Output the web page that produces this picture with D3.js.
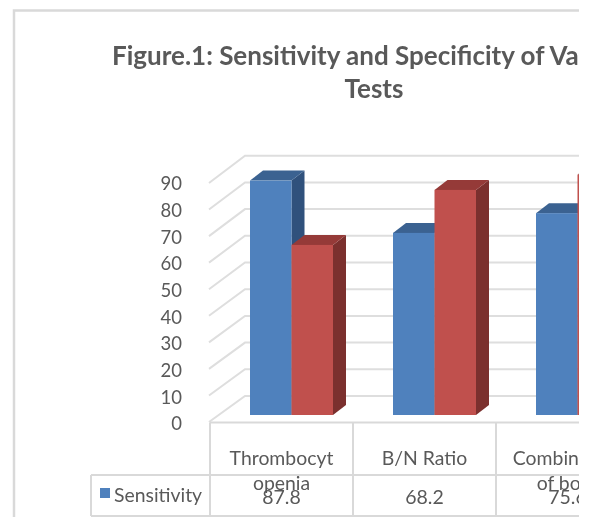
<!DOCTYPE html>
<html>
<head>
<meta charset="utf-8">
<script src="https://cdn.jsdelivr.net/npm/d3@7"></script>
<style>
  html, body { margin: 0; padding: 0; background: #fff; overflow: hidden; }
  svg { display: block; filter: blur(0.6px); font-family: Lato, sans-serif; }
</style>
</head>
<body>
<div id="chart"></div>
<script>
const categories = ['Thrombocytopenia', 'B/N Ratio', 'Combination of both'];
const categoryLines = [['Thrombocyt', 'openia'], ['B/N Ratio'], ['Combination', 'of both']];
const seriesNames = ['Sensitivity', 'Specificity'];
const sensitivity = [87.8, 68.2, 75.6];
const specificity = [63.7, 84.3, 90];
const yTicks = [0, 10, 20, 30, 40, 50, 60, 70, 80, 90];
const titleLines = ['Figure.1: Sensitivity and Specificity of Various', 'Tests'];

const width = 590;
const height = 517;
const clipRight = 579;
const grey = '#d9d9d9';
const textColor = '#595959';

const colors = {
  Sensitivity: { front: '#4f81bd', top: '#3b6291', side: '#30517c' },
  Specificity: { front: '#c0504d', top: '#953a38', side: '#7b302e' },
};

const svg = d3.select('#chart')
  .append('svg')
  .attr('width', width)
  .attr('height', height);

svg.append('clipPath')
  .attr('id', 'crop')
  .append('rect')
  .attr('width', clipRight)
  .attr('height', height);

const root = svg.append('g').attr('clip-path', 'url(#crop)');

// outer chart frame, right side is cut off in the reference
root.append('path')
  .attr('d', `M14,517V10.5H${clipRight}`)
  .attr('fill', 'none')
  .attr('stroke', grey)
  .attr('stroke-width', 2.5);

root.append('g')
  .selectAll('text')
  .data(titleLines)
  .join('text')
  .attr('x', 374)
  .attr('y', (d, i) => 64.5 + i * 33)
  .attr('text-anchor', 'middle')
  .attr('font-size', 26)
  .attr('font-weight', 700)
  .attr('fill', textColor)
  .text((d) => d);

const x = d3.scaleBand().domain(categories).range([210, 639]);
const xInner = d3.scaleBand().domain(seriesNames).range([40, 123]);

// three y scales because of the fake 3d: front edge, back wall, bars
const yFront = d3.scaleLinear().domain([0, 90]).range([423, 183]);
const yGrid = d3.scaleLinear().domain([0, 90]).range([422, 183]);
const yBack = d3.scaleLinear().domain([0, 90]).range([396, 155.7]);
const yBar = d3.scaleLinear().domain([0, 90]).range([415, 174.7]);

const wallX = 245;
const depthX = 13;
const depthY = 10;

const grid = root.append('g')
  .attr('fill', 'none')
  .attr('stroke', '#dedede')
  .attr('stroke-width', 2);

grid.selectAll('path')
  .data(yTicks)
  .join('path')
  .attr('d', (d) => `M209,${yGrid(d)}L${wallX},${yBack(d)}H${clipRight}`);

const yAxis = d3.axisLeft(yFront).tickValues(yTicks).tickSize(0).tickPadding(0);

root.append('g')
  .attr('transform', 'translate(182,0)')
  .call(yAxis)
  .call((g) => g.select('.domain').remove())
  .call((g) => g.selectAll('text')
    .attr('font-family', 'Lato, sans-serif')
    .attr('font-size', 18.5)
    .attr('dy', '0.36em')
    .attr('fill', textColor));

const rows = categories.flatMap((c, i) => [
  { category: c, series: 'Sensitivity', value: sensitivity[i] },
  { category: c, series: 'Specificity', value: specificity[i] },
]);

const bars = root.append('g')
  .selectAll('g')
  .data(rows)
  .join('g');

const barX = (d) => x(d.category) + xInner(d.series);
const w = xInner.bandwidth();

bars.append('path')
  .attr('fill', (d) => colors[d.series].side)
  .attr('d', (d) => {
    const r = barX(d) + w;
    return `M${r},${yBar(0)}l${depthX},${-depthY}V${yBar(d.value) - depthY}L${r},${yBar(d.value)}Z`;
  });

bars.append('path')
  .attr('fill', (d) => colors[d.series].top)
  .attr('d', (d) => `M${barX(d)},${yBar(d.value)}l${depthX},${-depthY}h${w}l${-depthX},${depthY}Z`);

bars.append('rect')
  .attr('x', barX)
  .attr('y', (d) => yBar(d.value))
  .attr('width', w)
  .attr('height', (d) => yBar(0) - yBar(d.value))
  .attr('fill', (d) => colors[d.series].front);

// data table under the plot
const tableTop = 422.5;
const rowTop = 475;
const rowBottom = 516;
const tableLeft = 91;
const colEdges = [...categories.map((c) => x(c)), x.range()[1]];

const table = root.append('g')
  .attr('stroke', grey)
  .attr('stroke-width', 2)
  .attr('fill', 'none');

table.append('path')
  .attr('d', `M${colEdges[0]},${tableTop}H${colEdges[3]}M${tableLeft},${rowTop}H${colEdges[3]}M${tableLeft},${rowBottom}H${colEdges[3]}M${tableLeft},${rowTop}V${rowBottom}`);

table.selectAll('line')
  .data(colEdges)
  .join('line')
  .attr('x1', (d) => d)
  .attr('x2', (d) => d)
  .attr('y1', tableTop)
  .attr('y2', rowBottom);

const labels = root.append('g')
  .attr('font-size', 19.4)
  .attr('fill', textColor)
  .attr('text-anchor', 'middle');

labels.selectAll('text.cat')
  .data(categories)
  .join('text')
  .attr('class', 'cat')
  .attr('x', (d) => x(d) + x.bandwidth() / 2)
  .attr('y', 465)
  .selectAll('tspan')
  .data((d, i) => categoryLines[i])
  .join('tspan')
  .attr('x', function () { return d3.select(this.parentNode).attr('x'); })
  .attr('dy', (d, i) => (i === 0 ? 0 : 25))
  .text((d) => d);

labels.selectAll('text.val')
  .data(sensitivity)
  .join('text')
  .attr('class', 'val')
  .attr('x', (d, i) => x(categories[i]) + x.bandwidth() / 2)
  .attr('y', 504)
  .attr('font-size', 19.5)
  .text((d) => d3.format('.1f')(d));

root.append('rect')
  .attr('x', 100)
  .attr('y', 488)
  .attr('width', 10)
  .attr('height', 10)
  .attr('fill', colors.Sensitivity.front);

root.append('text')
  .attr('x', 114)
  .attr('y', 502)
  .attr('font-size', 19.4)
  .attr('fill', textColor)
  .text(seriesNames[0]);
</script>
</body>
</html>
